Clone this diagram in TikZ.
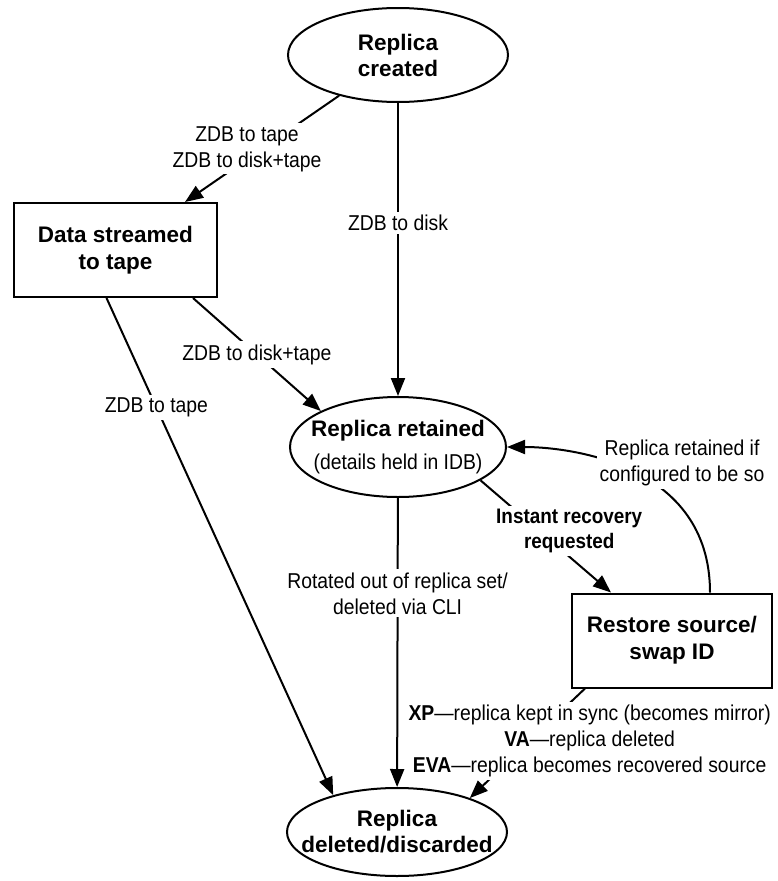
\documentclass[tikz,border=0pt]{standalone}
\usepackage{fontspec}
\setmainfont{Liberation Sans}
\newfontfamily\lblfont{Liberation Sans}[FakeStretch=0.9, Ligatures=TeX]
\usetikzlibrary{shapes.geometric,arrows.meta}

\begin{document}
\begin{tikzpicture}[
	x=1pt, y=-1pt,
	state/.style={ellipse, draw, line width=2pt, align=center,
		inner xsep=-30pt, inner ysep=-10pt, minimum width=220pt, minimum height=94pt,
		font=\fontsize{22.5}{26}\selectfont\bfseries},
	stage/.style={rectangle, draw, line width=2pt, align=center,
		minimum width=203pt, minimum height=94pt,
		font=\fontsize{22.5}{27}\selectfont\bfseries},
	lbl/.style={fill=white, align=center, inner sep=3pt,
		font=\lblfont\fontsize{21.5}{26}\selectfont},
	arr/.style={line width=2pt, -{Triangle[length=18pt,width=14pt]}}]
\useasboundingbox (0,0) rectangle (778,881);

\node[state] (created) at (398,55) {Replica\\created};
\node[stage] (tape) at (115.5,250) {Data streamed\\to tape};
\node[state, minimum width=216pt, minimum height=100pt] (retained) at (398,447)
	{Replica retained\\[7pt]{\lblfont\fontsize{21.5}{22}\selectfont\mdseries (details held in IDB)}};
\node[stage, minimum width=200pt] (restore) at (672,640.5) {Restore source/\\swap ID};
\node[state, minimum height=88pt] (deleted) at (397,832) {Replica\\deleted/discarded};

\draw[arr] (created) -- node[lbl, xshift=-15pt] {ZDB to tape\\ZDB to disk+tape} (tape);
\draw[arr] (created) -- node[lbl, pos=0.41] {ZDB to disk} (retained);
\draw[arr] ([xshift=-25pt]tape.south east) -- node[lbl] {ZDB to disk+tape} (retained.155);
\draw[arr] ([xshift=-9pt]tape.south) -- node[lbl, pos=0.22] {ZDB to tape} (deleted.150);
\draw[arr] (retained) -- node[lbl, pos=0.33] {Rotated out of replica set/\\deleted via CLI} (deleted);
\draw[arr] (retained.-22) -- node[lbl, pos=0.45, xshift=30pt, font=\lblfont\fontsize{21}{25}\selectfont\bfseries]
	{Instant recovery\\requested} ([xshift=40pt]restore.north west);
\draw[arr] ([xshift=38pt]restore.north) .. controls +(0,-130) and +(60,0) ..
	node[lbl, pos=0.5, xshift=51pt, yshift=8pt] {Replica retained if\\configured to be so} (retained.east);
\draw[arr] ([xshift=-87pt]restore.south) -- node[lbl, pos=0.48, xshift=60pt]
	{\textbf{XP}---replica kept in sync (becomes mirror)\\\textbf{VA}---replica deleted\\\textbf{EVA}---replica becomes recovered source} (deleted.25);
\end{tikzpicture}
\end{document}
